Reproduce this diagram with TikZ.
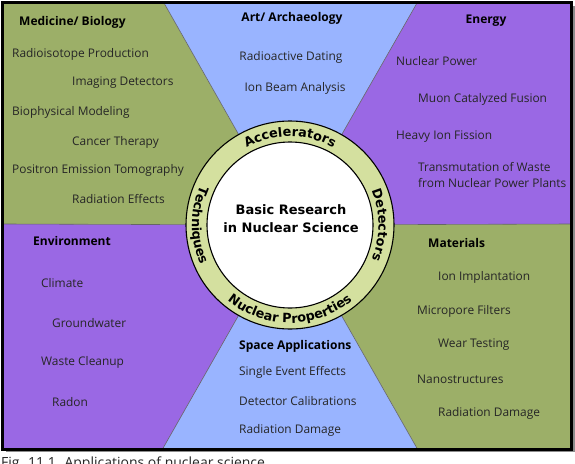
\documentclass[tikz,border=0pt]{standalone}
\usepackage{fontspec}
\setmainfont{Open Sans}
\newfontfamily\ringfont{DejaVu Sans}
\usetikzlibrary{decorations.text}
\definecolor{pgreen}{HTML}{9CAF68}
\definecolor{ppurple}{HTML}{9A68E4}
\definecolor{pblue}{HTML}{99B4FF}
\definecolor{pring}{HTML}{D4E09F}
\definecolor{ptext}{HTML}{262626}
\begin{document}
\begin{tikzpicture}[x=1pt,y=-1pt,
  item/.style={anchor=west, text=ptext, font=\fontsize{11.9}{14}\selectfont, inner sep=0pt},
  head/.style={anchor=west, text=black, font=\bfseries\fontsize{12}{14}\selectfont, inner sep=0pt},
  divider/.style={draw=black!60, line width=0.6pt},
  ringlabel/.style={decorate, decoration={text along path, text align=center,
     text={|\ringfont\bfseries\fontsize{12.8}{15}\selectfont|#1}}}]
\useasboundingbox (0,0) rectangle (575,463);
\clip (0,0) rectangle (575,463);
\fill[white] (0,0) rectangle (575,463);
\coordinate (C) at (290,225);
\coordinate (tA) at (164,3);
\coordinate (tB) at (417,3);
\coordinate (bA) at (162,450);
\coordinate (bB) at (418,450);
\coordinate (lM) at (3,224);
\coordinate (rM) at (572,224);
% panels
\fill[pgreen] (3,3) -- (tA) -- (C) -- (lM) -- cycle;
\fill[pblue] (tA) -- (tB) -- (C) -- cycle;
\fill[ppurple] (tB) -- (572,3) -- (rM) -- (C) -- cycle;
\fill[pgreen] (rM) -- (572,450) -- (bB) -- (C) -- cycle;
\fill[pblue] (bB) -- (bA) -- (C) -- cycle;
\fill[ppurple] (bA) -- (3,450) -- (lM) -- (C) -- cycle;
\draw[divider] (tA) -- (C) -- (tB);
\draw[divider] (bA) -- (C) -- (bB);
\draw[divider] (lM) -- (C) -- (rM);
% frame
\draw[black!45, line width=2pt] (6,451) -- (573.5,451) -- (573.5,6);
\draw[black, line width=3pt] (2,2.5) rectangle (571,449);
% circle
\node[circle, fill=pring, draw=black, line width=1.1pt, minimum size=208pt, inner sep=0pt] (ring) at (C) {};
\node[circle, fill=white, draw=black, line width=1.1pt, minimum size=166pt, inner sep=0pt] (core) at (C) {};
\node[align=center, font=\ringfont\bfseries\fontsize{13}{18}\selectfont, inner sep=0pt] (title) at (291,219) {Basic Research\\in Nuclear Science};
\begin{scope}[shift={(C)}, x=1pt, y=1pt]
  \path[ringlabel={Accelerators}] (150:88.5) arc[start angle=150, end angle=30, radius=88.5];
  \path[ringlabel={Detectors}] (60:88.5) arc[start angle=60, end angle=-60, radius=88.5];
  \path[ringlabel={Nuclear Properties}] (200:98) arc[start angle=200, end angle=340, radius=98];
  \path[ringlabel={Techniques}] (120:98) arc[start angle=120, end angle=240, radius=98];
\end{scope}
% Medicine / Biology
\node[head] (hMed) at (19,22) {Medicine/ Biology};
\node[item] (m1) at (12,54) {Radioisotope Production};
\node[item] (m2) at (72,83) {Imaging Detectors};
\node[item] (m3) at (12,112) {Biophysical Modeling};
\node[item] (m4) at (72,142) {Cancer Therapy};
\node[item] (m5) at (12,170) {Positron Emission Tomography};
\node[item] (m6) at (72,199) {Radiation Effects};
% Art / Archaeology
\node[head, anchor=center] (hArt) at (292,18) {Art/ Archaeology};
\node[item, anchor=center] (a1) at (291,57) {Radioactive Dating};
\node[item, anchor=center] (a2) at (295,88) {Ion Beam Analysis};
% Energy
\node[head, anchor=center] (hEn) at (486,21) {Energy};
\node[item] (e1) at (396,61) {Nuclear Power};
\node[item] (e2) at (418,99) {Muon Catalyzed Fusion};
\node[item] (e3) at (396,137) {Heavy Ion Fission};
\node[item, align=left, font=\fontsize{11.9}{16}\selectfont] (e4) at (418,175) {Transmutation of Waste\\from Nuclear Power Plants};
% Environment
\node[head] (hEnv) at (33,241) {Environment};
\node[item] (v1) at (41,283) {Climate};
\node[item] (v2) at (52,323) {Groundwater};
\node[item] (v3) at (41,362) {Waste Cleanup};
\node[item] (v4) at (52,402) {Radon};
% Space Applications
\node[head] (hSp) at (239,346) {Space Applications};
\node[item] (s1) at (239,372) {Single Event Effects};
\node[item] (s2) at (239,401) {Detector Calibrations};
\node[item] (s3) at (239,430) {Radiation Damage};
% Materials
\node[head] (hMat) at (428,243) {Materials};
\node[item] (t1) at (438,277) {Ion Implantation};
\node[item] (t2) at (417,311) {Micropore Filters};
\node[item] (t3) at (438,345) {Wear Testing};
\node[item] (t4) at (417,379) {Nanostructures};
\node[item] (t5) at (438,413) {Radiation Damage};
% caption (cut off at the bottom)
\node[anchor=base west, inner sep=0pt, font=\fontsize{14}{16}\selectfont, text=black!85] (cap) at (1,467) {Fig. 11.1. Applications of nuclear science};
\end{tikzpicture}
\end{document}
